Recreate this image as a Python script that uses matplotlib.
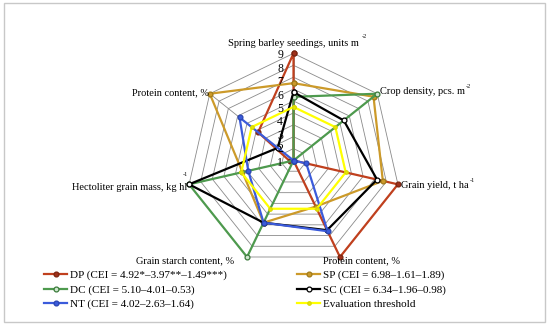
import numpy as np
import matplotlib
matplotlib.use("Agg")
import matplotlib.pyplot as plt
from matplotlib.lines import Line2D
from matplotlib.patches import Rectangle

# ---- data ----
axes_labels = ["Spring barley seedings, units m", "Crop density, pcs. m", "Grain yield, t ha",
               "Protein content, %", "Grain starch content, %", "Hectoliter grain mass, kg hl",
               "Protein content, %"]
ticks = [1, 2, 3, 4, 5, 6, 7, 8, 9]
DP = [9.0, 0.0, 9.0, 9.0, 0.0, 0.3, 3.8]
SP = [6.5, 8.6, 7.7, 4.3, 5.8, 4.4, 9.0]
DC = [5.35, 9.0, 0.0, 0.0, 9.0, 9.0, 0.0]
SC = [5.75, 5.4, 7.2, 6.5, 5.8, 9.0, 1.7]
NT = [0.0, 0.0, 1.1, 6.6, 5.8, 3.9, 5.8]
TH = [4.5, 4.5, 4.5, 4.5, 4.5, 4.5, 4.5]
series_names = ["DP (CEI = 4.92*\u20133.97**\u20131.49***)", "SP (CEI = 6.98\u20131.61\u20131.89)",
                "DC (CEI = 5.10\u20134.01\u20130.53)", "SC (CEI = 6.34\u20131.96\u20130.98)",
                "NT (CEI = 4.02\u20132.63\u20131.64)", "Evaluation threshold"]

plt.rcParams['font.family'] = ['Liberation Serif', 'DejaVu Serif']

W, H = 550, 326
fig = plt.figure(figsize=(W / 100, H / 100), dpi=100)
cx, cy, s = 293.5, 160.5, 11.9   # centre (px) and px per unit
ax = fig.add_axes([0, 0, 1, 1])
ax.set_xlim(-cx / s, (W - cx) / s)
ax.set_ylim(-(H - cy) / s, cy / s)
ax.axis('off')

n = len(axes_labels)
theta = np.deg2rad(90 - np.arange(n) * 360 / n)

def xy(vals):
    v = np.asarray(vals, float)
    x = v * np.cos(theta)
    y = v * np.sin(theta)
    return np.append(x, x[0]), np.append(y, y[0])

# grid
for t in ticks:
    gx, gy = xy([t] * n)
    ax.plot(gx, gy, color='#8a8a8a', lw=0.6, zorder=1)
for th in theta:
    ax.plot([0, 9 * np.cos(th)], [0, 9 * np.sin(th)], color='#8a8a8a', lw=0.6, zorder=1)

styles = [
    dict(color='#c0401e', mfc='#a0301a', mec='#7a2510'),
    dict(color='#cc9a2a', mfc='#cc9a2a', mec='#a07a1a'),
    dict(color='#4e9a4e', mfc='#cfe8cf', mec='#3a7a3a'),
    dict(color='#000000', mfc='#ffffff', mec='#000000'),
    dict(color='#3b5bdb', mfc='#3b5bdb', mec='#2a45b0'),
    dict(color='#ffff00', mfc='#e8e800', mec='#d8d800'),
]
data = [DP, SP, DC, SC, NT, TH]
handles = []
for i, (vals, st) in enumerate(zip(data, styles)):
    px, py = xy(vals)
    ms = 2.5 if i == 5 else 3.5
    ax.plot(px, py, color=st['color'], lw=1.6, marker='o', ms=ms,
            mfc=st['mfc'], mec=st['mec'], mew=0.9, zorder=3 + i)
    handles.append(Line2D([], [], color=st['color'], lw=1.6, marker='o', ms=ms,
                          mfc=st['mfc'], mec=st['mec'], mew=0.9))

# tick labels along the top axis
for t in ticks:
    ty = 176 - 13.4 * t
    fig.text(283 / W, 1 - ty / H, str(t), fontsize=8.5, ha='right', va='center')

def ftext(x, y, txt, **kw):
    fig.text(x / W, 1 - y / H, txt, **kw)

fs = 7.5
ftext(293, 43.5, axes_labels[0], fontsize=fs, ha='center', va='center')
ftext(362, 36, "-2", fontsize=4.5, ha='left', va='center')
ftext(380, 92, axes_labels[1], fontsize=fs, ha='left', va='center')
ftext(466, 86, "-2", fontsize=4.5, ha='left', va='center')
ftext(401, 186, axes_labels[2], fontsize=fs, ha='left', va='center')
ftext(470, 180, "-1", fontsize=4.5, ha='left', va='center')
ftext(323, 261, axes_labels[3], fontsize=fs, ha='left', va='center')
ftext(234, 261, axes_labels[4], fontsize=fs, ha='right', va='center')
ftext(187, 187, axes_labels[5], fontsize=fs, ha='right', va='center')
ftext(183, 175, "-1", fontsize=4.5, ha='left', va='center')
ftext(209, 93, axes_labels[6], fontsize=fs, ha='right', va='center')

# legend: two columns
left = [0, 2, 4]
right = [1, 3, 5]
for cols, x0 in ((left, 44), (right, 297)):
    fig.legend([handles[k] for k in cols], [series_names[k] for k in cols],
               loc='upper left', bbox_to_anchor=(x0 / W, 1 - 270 / H),
               frameon=False, fontsize=8, handlelength=2.1, handletextpad=0.2,
               labelspacing=0.42, borderpad=0, borderaxespad=0)

# outer border
fig.patches.append(Rectangle((4 / W, 1 - 322 / H), 541 / W, 319 / H, transform=fig.transFigure,
                             fill=False, ec='#c8c8c8', lw=1))

fig.savefig('out.png', dpi=100)
